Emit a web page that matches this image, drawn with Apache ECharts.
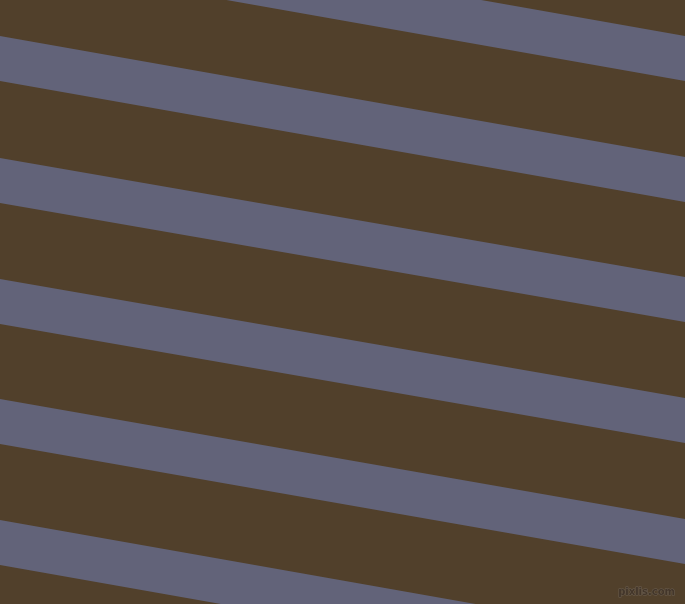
<!DOCTYPE html>
<html>
<head>
<meta charset="utf-8">
<title>stripes</title>
<script src="https://cdn.jsdelivr.net/npm/echarts@6/dist/echarts.min.js"></script>
<style>
  html, body { margin: 0; padding: 0; background: #51402b; }
  #main { width: 685px; height: 604px; }
</style>
</head>
<body>
<div id="main"></div>
<script>
// stripe edges (pixel rows)
var leftTop = [-85, 36, 158, 279, 399, 520];    // top edge of each grey band at x = 0
var rightTop = [36, 157, 277, 398, 519, 641];   // top edge of each grey band at x = 685
var bandHeight = [45, 45, 45, 45, 45, 45];      // vertical thickness of each band
var xRange = [0, 685];
var yRange = [0, 604];

var chart = echarts.init(document.getElementById('main'));

var data = [];
for (var i = 0; i < leftTop.length; i++) {
  data.push([leftTop[i], rightTop[i], bandHeight[i]]);
}

function renderBand(params, api) {
  var lt = api.value(0), rt = api.value(1), h = api.value(2);
  var pts = [
    api.coord([xRange[0], lt]),
    api.coord([xRange[1], rt]),
    api.coord([xRange[1], rt + h]),
    api.coord([xRange[0], lt + h])
  ];
  return {
    type: 'polygon',
    shape: { points: pts },
    style: { fill: '#626379' }
  };
}

var option = {
  backgroundColor: '#51402b',
  animation: false,
  title: {
    text: 'pixlis.com',
    right: 4,
    bottom: 1,
    textStyle: {
      color: '#43362a',
      fontSize: 10,
      fontWeight: 'bold',
      fontFamily: 'DejaVu Sans',
      textBorderColor: '#6b5f52',
      textBorderWidth: 1
    }
  },
  grid: { left: 0, right: 0, top: 0, bottom: 0 },
  xAxis: { type: 'value', min: xRange[0], max: xRange[1], show: false },
  yAxis: { type: 'value', min: yRange[0], max: yRange[1], inverse: true, show: false },
  series: [{
    type: 'custom',
    renderItem: renderBand,
    data: data,
    clip: true,
    silent: true
  }]
};
chart.setOption(option);
</script>
</body>
</html>
